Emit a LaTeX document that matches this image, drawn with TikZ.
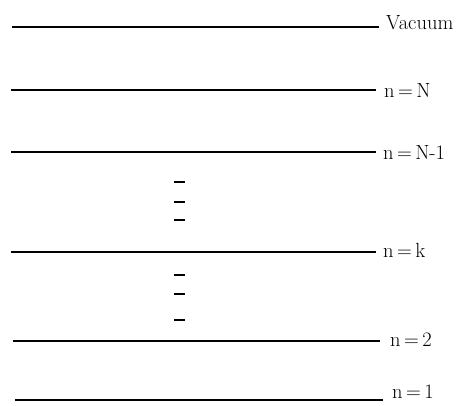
\documentclass[tikz,border=0pt]{standalone}
\begin{document}
\begin{tikzpicture}[x=1pt,y=-1pt,
  level/.style={line width=2.9pt},
  gap/.style={line width=2.9pt},
  lbl/.style={anchor=base west,inner sep=0pt,font=\fontsize{20.5}{24}\selectfont}]
\useasboundingbox (0,0) rectangle (463,405);
% levels
\coordinate (v0) at (12,27);  \node[lbl] (vac) at (386,29) {Vacuum};
\coordinate (a0) at (11,90);  \node[lbl] (nN) at (384,97) {n\,=\,N};
\coordinate (b0) at (11,152); \node[lbl] (nN1) at (383,159) {n\,=\,N-1};
\coordinate (c0) at (11,252); \node[lbl] (nk) at (383,257) {n\,=\,k};
\coordinate (d0) at (13,341); \node[lbl] (n2) at (390,346) {n\,=\,2};
\coordinate (e0) at (15,400); \node[lbl] (n1) at (392,398.5) {n\,=\,1};
\coordinate (v1) at (379,27);
\coordinate (a1) at (376,90);
\coordinate (b1) at (376,152);
\coordinate (c1) at (376,252);
\coordinate (d1) at (380,341);
\coordinate (e1) at (383,400);
\draw[level] (v0) -- (v1);
\draw[level] (a0) -- (a1);
\draw[level] (b0) -- (b1);
\draw[level] (c0) -- (c1);
\draw[level] (d0) -- (d1);
\draw[level] (e0) -- (e1);
% dashes
\foreach \y in {182,202,220,275,294,320}
  \draw[gap] (174,\y) -- (185,\y);
\end{tikzpicture}
\end{document}
